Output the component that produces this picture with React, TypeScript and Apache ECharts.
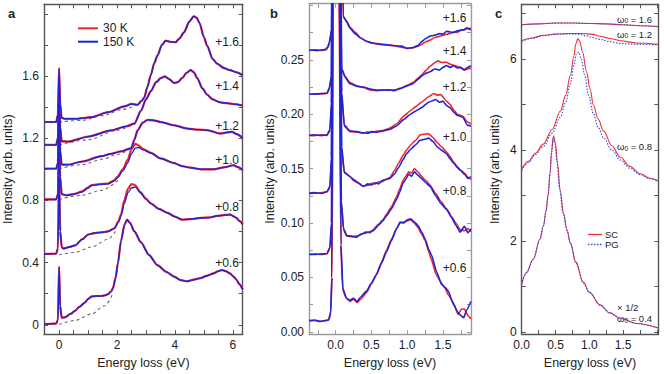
import React, { useEffect, useRef } from "react";
import * as echarts from "echarts";

// ---------------- Panel a (offset spectra, 30 K vs 150 K) ----------------
const aC1_150K = [[-0.52,0.005],[-0.3,0.006],[-0.1,0.008],[-0.04,0.03],[0,0.373],[0.04,0.12],[0.09,0.045],[0.2,0.048],[0.4,0.07],[0.55,0.09],[0.7,0.115],[0.89,0.143],[1.0,0.165],[1.12,0.182],[1.3,0.185],[1.46,0.185],[1.6,0.19],[1.69,0.197],[1.8,0.215],[1.86,0.235],[1.95,0.3],[2.03,0.394],[2.14,0.54],[2.26,0.645],[2.35,0.676],[2.45,0.655],[2.6,0.6],[2.83,0.53],[3.1,0.45],[3.4,0.383],[3.7,0.34],[3.97,0.31],[4.2,0.287],[4.42,0.279],[4.65,0.29],[4.88,0.3],[5.1,0.315],[5.33,0.33],[5.5,0.345],[5.62,0.352],[5.75,0.345],[5.9,0.331],[6.02,0.31],[6.13,0.289],[6.22,0.262],[6.34,0.228]];
const aC1_30K = aC1_150K;
const aC1_bg = [[0,0.003],[0.55,0.028],[1.12,0.069],[1.57,0.122],[1.86,0.2]];

const aC2_150K = [[-0.52,0.455],[-0.1,0.458],[-0.04,0.49],[0,1.0],[0.04,0.6],[0.09,0.5],[0.15,0.49],[0.35,0.5],[0.55,0.51],[0.8,0.55],[1.0,0.58],[1.23,0.59],[1.5,0.595],[1.69,0.6],[1.91,0.62],[2.05,0.66],[2.14,0.7],[2.25,0.78],[2.38,0.85],[2.5,0.88],[2.65,0.885],[2.8,0.85],[3.0,0.81],[3.17,0.78],[3.45,0.745],[3.74,0.72],[4.0,0.695],[4.25,0.676],[4.55,0.68],[4.88,0.687],[5.2,0.69],[5.45,0.7],[5.7,0.705],[5.9,0.707],[6.1,0.69],[6.25,0.665],[6.34,0.645]];
const aC2_30K = [[-0.52,0.455],[-0.1,0.458],[-0.04,0.49],[0,0.95],[0.04,0.6],[0.09,0.5],[0.15,0.49],[0.35,0.5],[0.55,0.51],[0.8,0.55],[1.0,0.58],[1.23,0.59],[1.5,0.595],[1.69,0.6],[1.91,0.62],[2.05,0.665],[2.14,0.71],[2.25,0.8],[2.38,0.875],[2.5,0.905],[2.62,0.898],[2.8,0.855],[3.0,0.81],[3.17,0.78],[3.45,0.745],[3.74,0.72],[4.0,0.695],[4.25,0.676],[4.55,0.68],[4.88,0.687],[5.2,0.69],[5.45,0.7],[5.7,0.705],[5.9,0.71],[6.1,0.69],[6.25,0.665],[6.34,0.645]];
const aC2_bg = [[0,0.45],[0.55,0.465],[1.12,0.5],[1.69,0.55],[1.95,0.6]];

const aC3_150K = [[-0.52,0.806],[-0.1,0.806],[-0.04,0.84],[0,1.3],[0.04,0.95],[0.09,0.84],[0.26,0.833],[0.5,0.84],[0.78,0.854],[1.0,0.88],[1.12,0.896],[1.4,0.903],[1.69,0.906],[1.9,0.925],[2.03,0.948],[2.2,0.99],[2.37,1.04],[2.5,1.1],[2.63,1.135],[2.75,1.14],[2.9,1.125],[3.17,1.105],[3.5,1.07],[3.97,1.04],[4.25,1.02],[4.54,1.01],[4.9,1.0],[5.33,1.0],[5.7,1.012],[6.02,1.026],[6.2,1.012],[6.34,0.995]];
const aC3_30K = [[-0.52,0.806],[-0.1,0.806],[-0.04,0.84],[0,1.25],[0.04,0.95],[0.09,0.84],[0.26,0.833],[0.5,0.84],[0.78,0.856],[1.0,0.882],[1.12,0.898],[1.4,0.905],[1.69,0.908],[1.9,0.928],[2.03,0.955],[2.2,1.0],[2.37,1.06],[2.5,1.13],[2.63,1.164],[2.75,1.152],[2.9,1.13],[3.17,1.105],[3.5,1.07],[3.97,1.04],[4.25,1.02],[4.54,1.01],[4.9,1.0],[5.33,1.0],[5.7,1.012],[6.02,1.026],[6.2,1.012],[6.34,0.995]];
const aC3_bg = [[0,0.806],[0.78,0.833],[1.46,0.864],[2.1,0.94]];

const aC4_150K = [[-0.52,1.004],[-0.1,1.004],[-0.04,1.04],[0,1.45],[0.04,1.12],[0.09,1.03],[0.32,1.03],[0.8,1.05],[1.46,1.084],[1.8,1.1],[2.14,1.115],[2.49,1.136],[2.6,1.19],[2.71,1.25],[2.89,1.3],[3.06,1.318],[3.25,1.315],[3.51,1.304],[3.97,1.283],[4.42,1.262],[4.8,1.255],[5.11,1.252],[5.56,1.23],[5.96,1.241],[6.15,1.225],[6.34,1.2]];
const aC4_30K = aC4_150K;
const aC4_bg = [[0,1.004],[0.8,1.03],[1.5,1.065],[2.0,1.095],[2.45,1.13]];

const aC5_150K = [[-0.52,1.157],[-0.1,1.157],[-0.04,1.2],[0,1.55],[0.04,1.27],[0.09,1.18],[0.32,1.178],[1.0,1.21],[1.8,1.25],[2.3,1.275],[2.6,1.293],[2.83,1.377],[3.0,1.45],[3.17,1.503],[3.35,1.56],[3.51,1.586],[3.65,1.597],[3.8,1.58],[3.97,1.555],[4.1,1.56],[4.25,1.586],[4.4,1.62],[4.54,1.638],[4.65,1.625],[4.77,1.586],[4.95,1.52],[5.11,1.48],[5.3,1.45],[5.56,1.43],[5.8,1.425],[6.02,1.419],[6.34,1.41]];
const aC5_30K = aC5_150K;
const aC5_bg = [[0,1.157],[1.0,1.19],[2.0,1.25],[2.6,1.293]];

const aC6_150K = [[-0.52,1.304],[-0.1,1.304],[-0.04,1.35],[0,1.65],[0.04,1.42],[0.09,1.33],[0.2,1.325],[0.6,1.325],[1.12,1.335],[1.69,1.367],[2.26,1.405],[2.5,1.42],[2.71,1.415],[2.85,1.44],[2.94,1.461],[3.05,1.53],[3.17,1.607],[3.28,1.68],[3.4,1.733],[3.55,1.8],[3.68,1.827],[3.85,1.82],[4.02,1.817],[4.15,1.84],[4.31,1.88],[4.5,1.95],[4.65,1.984],[4.75,1.975],[4.85,1.94],[5.0,1.85],[5.11,1.795],[5.3,1.71],[5.45,1.68],[5.7,1.65],[5.9,1.638],[6.1,1.625],[6.34,1.605]];
const aC6_30K = aC6_150K;
const aC6_bg = [[0,1.304],[0.8,1.315],[1.5,1.345],[2.2,1.385],[2.7,1.415]];

const aCurveLabels = ["+1.6", "+1.4", "+1.2", "+1.0", "+0.8", "+0.6"];
const aXTicks = [-0.5,0,0.5,1,1.5,2,2.5,3,3.5,4,4.5,5,5.5,6];
const aXLabels = [0,2,4,6];
const aYTicks = [0,0.2,0.4,0.6,0.8,1.0,1.2,1.4,1.6,1.8,2.0];
const aYLabels = [0,0.4,0.8,1.2,1.6];

// ---------------- Panel b ----------------
const b1_150K = [[-0.37,0.0105],[-0.3,0.011],[-0.22,0.0098],[-0.15,0.0102],[-0.1,0.011],[-0.07,0.018],[-0.055,0.05],[-0.04,0.35],[0,1.5],[0.05,0.35],[0.075,0.08],[0.1,0.04],[0.15,0.031],[0.2,0.029],[0.25,0.031],[0.3,0.028],[0.35,0.032],[0.43,0.0375],[0.5,0.045],[0.57,0.0525],[0.64,0.063],[0.71,0.0735],[0.78,0.084],[0.85,0.0946],[0.9,0.101],[0.95,0.1],[1.0,0.103],[1.05,0.104],[1.1,0.101],[1.15,0.098],[1.2,0.092],[1.25,0.0856],[1.3,0.076],[1.34,0.0705],[1.41,0.0555],[1.48,0.0435],[1.53,0.041],[1.575,0.0375],[1.645,0.0255],[1.71,0.018],[1.75,0.015],[1.79,0.013],[1.83,0.02],[1.89,0.028]];
const b1_30K = [[-0.37,0.01],[-0.3,0.0105],[-0.22,0.0095],[-0.15,0.0105],[-0.1,0.0108],[-0.07,0.016],[-0.05,0.05],[-0.03,0.35],[0.01,1.5],[0.045,0.35],[0.07,0.08],[0.1,0.038],[0.15,0.031],[0.2,0.028],[0.25,0.03],[0.3,0.027],[0.35,0.03],[0.43,0.036],[0.5,0.044],[0.57,0.053],[0.64,0.064],[0.71,0.075],[0.78,0.085],[0.85,0.095],[0.9,0.1],[0.95,0.101],[1.0,0.102],[1.05,0.103],[1.1,0.1],[1.15,0.096],[1.2,0.09],[1.25,0.084],[1.3,0.074],[1.34,0.066],[1.41,0.052],[1.48,0.045],[1.53,0.04],[1.575,0.034],[1.645,0.027],[1.71,0.016],[1.76,0.021],[1.8,0.021],[1.85,0.015],[1.89,0.012]];
const b2_150K = [[-0.37,0.0714],[-0.3,0.0712],[-0.2,0.0716],[-0.12,0.072],[-0.08,0.078],[-0.06,0.1],[-0.045,0.35],[0,1.5],[0.05,0.35],[0.08,0.12],[0.11,0.095],[0.154,0.0886],[0.22,0.088],[0.29,0.087],[0.35,0.09],[0.42,0.091],[0.48,0.092],[0.525,0.093],[0.6,0.098],[0.66,0.102],[0.71,0.1066],[0.78,0.113],[0.85,0.1216],[0.9,0.129],[0.94,0.1366],[0.98,0.14],[1.02,0.145],[1.06,0.143],[1.1,0.147],[1.15,0.144],[1.2,0.141],[1.26,0.137],[1.32,0.1336],[1.4,0.125],[1.47,0.118],[1.55,0.1126],[1.62,0.105],[1.68,0.098],[1.74,0.0916],[1.8,0.097],[1.85,0.091],[1.89,0.0946]];
const b2_30K = [[-0.37,0.071],[-0.3,0.0716],[-0.2,0.0712],[-0.12,0.0718],[-0.08,0.077],[-0.055,0.1],[-0.035,0.35],[0.01,1.5],[0.045,0.35],[0.075,0.12],[0.11,0.094],[0.154,0.088],[0.22,0.0875],[0.29,0.088],[0.35,0.089],[0.42,0.092],[0.48,0.091],[0.525,0.094],[0.6,0.099],[0.66,0.103],[0.71,0.108],[0.78,0.115],[0.85,0.124],[0.9,0.132],[0.94,0.139],[0.98,0.143],[1.02,0.147],[1.06,0.146],[1.1,0.15],[1.15,0.147],[1.2,0.143],[1.26,0.139],[1.32,0.135],[1.4,0.127],[1.47,0.12],[1.55,0.113],[1.62,0.106],[1.68,0.1],[1.74,0.094],[1.8,0.093],[1.85,0.095],[1.89,0.092]];
const b3_150K = [[-0.37,0.1276],[-0.3,0.128],[-0.2,0.1272],[-0.12,0.129],[-0.08,0.134],[-0.06,0.16],[-0.045,0.4],[0,1.5],[0.055,0.4],[0.085,0.17],[0.12,0.147],[0.2,0.1426],[0.25,0.14],[0.3,0.138],[0.385,0.1336],[0.45,0.136],[0.5,0.135],[0.55,0.137],[0.6,0.136],[0.65,0.139],[0.7,0.14],[0.76,0.141],[0.82,0.145],[0.88,0.151],[0.94,0.158],[0.99,0.1636],[1.05,0.168],[1.12,0.172],[1.18,0.176],[1.24,0.177],[1.3,0.178],[1.36,0.175],[1.42,0.17],[1.48,0.167],[1.55,0.1636],[1.6,0.159],[1.65,0.155],[1.7,0.151],[1.74,0.1486],[1.8,0.145],[1.85,0.141],[1.89,0.1426]];
const b3_30K = [[-0.37,0.127],[-0.3,0.1274],[-0.2,0.1278],[-0.12,0.1285],[-0.08,0.133],[-0.055,0.16],[-0.035,0.4],[0.01,1.5],[0.05,0.4],[0.08,0.17],[0.12,0.146],[0.2,0.143],[0.25,0.139],[0.3,0.137],[0.385,0.134],[0.45,0.1345],[0.5,0.1365],[0.55,0.136],[0.6,0.138],[0.65,0.138],[0.7,0.14],[0.76,0.142],[0.82,0.148],[0.88,0.155],[0.94,0.162],[0.99,0.167],[1.05,0.172],[1.12,0.176],[1.18,0.181],[1.24,0.1816],[1.3,0.182],[1.36,0.1786],[1.42,0.174],[1.48,0.17],[1.55,0.1655],[1.6,0.161],[1.65,0.156],[1.7,0.152],[1.74,0.149],[1.8,0.146],[1.85,0.142],[1.89,0.14]];
const b4_150K = [[-0.37,0.1807],[-0.3,0.181],[-0.2,0.1803],[-0.12,0.181],[-0.08,0.186],[-0.06,0.21],[-0.045,0.45],[0,1.5],[0.055,0.45],[0.085,0.22],[0.12,0.19],[0.2,0.1847],[0.3,0.184],[0.385,0.183],[0.45,0.1825],[0.5,0.184],[0.58,0.1835],[0.66,0.1847],[0.75,0.186],[0.85,0.1892],[0.95,0.195],[1.04,0.1997],[1.12,0.203],[1.2,0.206],[1.3,0.211],[1.4,0.2135],[1.45,0.211],[1.5,0.212],[1.55,0.208],[1.6,0.206],[1.65,0.202],[1.7,0.199],[1.78,0.197],[1.84,0.19],[1.89,0.189]];
const b4_30K = [[-0.37,0.1805],[-0.3,0.1803],[-0.2,0.181],[-0.12,0.1805],[-0.08,0.185],[-0.055,0.21],[-0.035,0.45],[0.01,1.5],[0.05,0.45],[0.08,0.22],[0.12,0.189],[0.2,0.184],[0.3,0.1835],[0.385,0.1825],[0.45,0.1838],[0.5,0.1832],[0.58,0.1845],[0.66,0.185],[0.75,0.187],[0.85,0.191],[0.95,0.198],[1.04,0.203],[1.12,0.207],[1.2,0.211],[1.3,0.216],[1.37,0.219],[1.42,0.2175],[1.47,0.218],[1.55,0.212],[1.6,0.209],[1.65,0.204],[1.7,0.2],[1.78,0.198],[1.84,0.193],[1.89,0.191]];
const b5_150K = [[-0.37,0.2186],[-0.3,0.2183],[-0.2,0.219],[-0.12,0.2195],[-0.09,0.224],[-0.06,0.235],[-0.045,0.5],[0,1.5],[0.06,0.5],[0.084,0.242],[0.13,0.234],[0.2,0.228],[0.3,0.2255],[0.385,0.225],[0.5,0.2228],[0.58,0.2222],[0.66,0.222],[0.74,0.2225],[0.82,0.2215],[0.9,0.2237],[1.0,0.226],[1.08,0.228],[1.15,0.232],[1.2,0.235],[1.26,0.2375],[1.32,0.239],[1.39,0.2417],[1.45,0.2405],[1.5,0.243],[1.55,0.2447],[1.6,0.243],[1.65,0.2445],[1.7,0.2425],[1.74,0.243],[1.8,0.241],[1.85,0.243],[1.89,0.2445]];
const b5_30K = [[-0.37,0.2183],[-0.3,0.2188],[-0.2,0.2185],[-0.12,0.219],[-0.09,0.223],[-0.055,0.235],[-0.035,0.5],[0.01,1.5],[0.055,0.5],[0.08,0.242],[0.13,0.235],[0.2,0.229],[0.3,0.226],[0.385,0.2245],[0.5,0.222],[0.58,0.2215],[0.66,0.2225],[0.74,0.2218],[0.82,0.2225],[0.9,0.2235],[1.0,0.2265],[1.08,0.229],[1.15,0.233],[1.2,0.236],[1.26,0.24],[1.32,0.244],[1.39,0.2475],[1.43,0.249],[1.48,0.2475],[1.55,0.2477],[1.6,0.246],[1.65,0.245],[1.7,0.244],[1.74,0.243],[1.8,0.2405],[1.85,0.2415],[1.89,0.2425]];
const b6_150K = [[-0.37,0.259],[-0.3,0.2588],[-0.25,0.2585],[-0.2,0.259],[-0.14,0.2595],[-0.11,0.262],[-0.09,0.266],[-0.056,0.278],[-0.045,0.6],[0,1.5],[0.07,0.6],[0.106,0.29],[0.15,0.285],[0.2,0.279],[0.27,0.274],[0.35,0.27],[0.43,0.267],[0.5,0.2655],[0.58,0.2648],[0.67,0.2642],[0.76,0.2635],[0.85,0.2627],[0.92,0.2625],[1.0,0.2605],[1.08,0.2612],[1.15,0.263],[1.2,0.2665],[1.26,0.2695],[1.32,0.2717],[1.38,0.2725],[1.45,0.274],[1.5,0.2735],[1.55,0.2762],[1.6,0.2755],[1.645,0.275],[1.7,0.2765],[1.75,0.277],[1.8,0.2778],[1.83,0.2793],[1.89,0.2775]];
const b6_30K = [[-0.37,0.2585],[-0.3,0.2592],[-0.25,0.259],[-0.2,0.2585],[-0.14,0.259],[-0.11,0.261],[-0.09,0.264],[-0.05,0.278],[-0.035,0.6],[0.01,1.5],[0.065,0.6],[0.1,0.29],[0.15,0.286],[0.2,0.28],[0.27,0.2755],[0.35,0.27],[0.43,0.267],[0.5,0.2655],[0.58,0.2645],[0.67,0.2635],[0.76,0.2632],[0.85,0.2625],[0.92,0.2615],[1.0,0.2605],[1.08,0.2608],[1.15,0.2625],[1.2,0.264],[1.26,0.2665],[1.32,0.268],[1.38,0.2705],[1.45,0.2715],[1.5,0.2725],[1.55,0.2735],[1.6,0.274],[1.645,0.2755],[1.7,0.275],[1.75,0.2775],[1.8,0.2775],[1.83,0.2785],[1.89,0.279]];

const bCurveLabels = ["+1.6", "+1.4", "+1.2", "+1.0", "+0.8", "+0.6"];
const bXTicks = [-0.25,0,0.25,0.5,0.75,1.0,1.25,1.5,1.75];
const bXLabels = [0,0.5,1.0,1.5];
const bYTicks = [0,0.025,0.05,0.075,0.1,0.125,0.15,0.175,0.2,0.225,0.25,0.275,0.3];
const bYLabels = [0,0.05,0.1,0.15,0.2,0.25];

// ---------------- Panel c (model, SC vs PG) ----------------
const c16_SC = [[0,6.75],[0.25,6.77],[0.5,6.79],[0.75,6.79],[1.0,6.78],[1.25,6.77],[1.5,6.75],[1.75,6.73],[2.02,6.71]];
const c16_PG = c16_SC;
const c12_SC = [[0,6.4],[0.15,6.46],[0.32,6.52],[0.5,6.545],[0.7,6.56],[0.91,6.56],[1.05,6.54],[1.16,6.5],[1.3,6.45],[1.46,6.4],[1.7,6.35],[2.02,6.32]];
const c12_PG = [[0,6.39],[0.15,6.45],[0.32,6.51],[0.5,6.54],[0.7,6.55],[0.85,6.54],[0.95,6.51],[1.05,6.47],[1.16,6.43],[1.3,6.38],[1.46,6.34],[1.7,6.32],[2.02,6.31]];
const c08_SC = [[0,3.585],[0.1,3.75],[0.2,3.93],[0.32,4.13],[0.45,4.45],[0.57,4.85],[0.65,5.2],[0.72,5.64],[0.77,6.05],[0.8,6.33],[0.83,6.45],[0.86,6.38],[0.9,6.15],[0.96,5.71],[1.01,5.35],[1.06,4.99],[1.13,4.68],[1.21,4.42],[1.33,4.1],[1.46,3.84],[1.6,3.64],[1.75,3.48],[1.9,3.38],[2.02,3.32]];
const c08_PG = [[0,3.56],[0.1,3.72],[0.2,3.9],[0.32,4.08],[0.45,4.37],[0.57,4.72],[0.65,5.05],[0.72,5.45],[0.77,5.85],[0.81,6.12],[0.84,6.15],[0.88,6.0],[0.93,5.65],[0.99,5.2],[1.06,4.8],[1.13,4.5],[1.21,4.27],[1.33,4.0],[1.46,3.78],[1.6,3.6],[1.75,3.46],[1.9,3.37],[2.02,3.31]];
const c04_SC = [[0,1.06],[0.07,1.31],[0.17,1.6],[0.27,2.04],[0.32,2.32],[0.36,2.65],[0.39,3.0],[0.42,3.5],[0.44,3.95],[0.47,4.31],[0.5,4.15],[0.53,3.7],[0.57,3.1],[0.62,2.6],[0.67,2.25],[0.72,1.96],[0.8,1.55],[0.91,1.1],[1.0,0.88],[1.16,0.6],[1.3,0.43],[1.46,0.31],[1.7,0.19],[2.02,0.09]];
const c04_PG = [[0,1.05],[0.07,1.3],[0.17,1.6],[0.27,2.04],[0.32,2.33],[0.36,2.67],[0.39,3.02],[0.42,3.5],[0.44,3.9],[0.46,4.24],[0.49,4.15],[0.52,3.75],[0.56,3.15],[0.61,2.62],[0.67,2.22],[0.72,1.94],[0.8,1.52],[0.91,1.08],[1.0,0.87],[1.16,0.59],[1.3,0.42],[1.46,0.3],[1.7,0.19],[2.02,0.09]];

const cXTicks = [0,0.25,0.5,0.75,1.0,1.25,1.5,1.75,2.0];
const cXLabels = [0,0.5,1.0,1.5];
const cYTicks = [0,1,2,3,4,5,6,7];
const cYLabels = [0,2,4,6];

// ---------------- styling ----------------
const FONT = "'Liberation Sans', Arial, Helvetica, sans-serif";
const RED = "#f0262c";
const BLUE = "#1f24d6";
const RED_C = "#e8333a";
const BLUE_C = "#3a4be0";
const GRAY = "#6a6a6a";

function xAxes(gi: number, min: number, max: number, ticks: number[], labels: number[], fmt: (v: number) => string, color: string, gap: number) {
  return [
    {
      type: "value", gridIndex: gi, position: "bottom", min, max,
      name: "Energy loss (eV)", nameLocation: "middle", nameGap: gap,
      nameTextStyle: { fontFamily: FONT, fontSize: 12.5, color: "#222" },
      axisLine: { show: true, onZero: false, lineStyle: { color, width: 1.4 } },
      axisTick: { show: true, inside: true, length: 4, customValues: ticks, lineStyle: { color, width: 1 } },
      axisLabel: { show: true, customValues: labels, formatter: fmt, fontFamily: FONT, fontSize: 12, color: "#222", margin: 5 },
      splitLine: { show: false },
    },
    {
      type: "value", gridIndex: gi, position: "top", min, max,
      axisLine: { show: true, onZero: false, lineStyle: { color, width: 1.4 } },
      axisTick: { show: true, inside: true, length: 4, customValues: ticks, lineStyle: { color, width: 1 } },
      axisLabel: { show: false },
      splitLine: { show: false },
    },
  ];
}

function yAxes(gi: number, min: number, max: number, ticks: number[], labels: number[], fmt: (v: number) => string, color: string, gap: number) {
  return [
    {
      type: "value", gridIndex: gi, position: "left", min, max,
      name: "Intensity (arb. units)", nameLocation: "middle", nameGap: gap,
      nameTextStyle: { fontFamily: FONT, fontSize: 12.5, color: "#222" },
      axisLine: { show: true, onZero: false, lineStyle: { color, width: 1.4 } },
      axisTick: { show: true, inside: true, length: 4, customValues: ticks, lineStyle: { color, width: 1 } },
      axisLabel: { show: true, customValues: labels, formatter: fmt, fontFamily: FONT, fontSize: 12, color: "#222", margin: 5 },
      splitLine: { show: false },
    },
    {
      type: "value", gridIndex: gi, position: "right", min, max,
      axisLine: { show: true, onZero: false, lineStyle: { color, width: 1.4 } },
      axisTick: { show: true, inside: true, length: 4, customValues: ticks, lineStyle: { color, width: 1 } },
      axisLabel: { show: false },
      splitLine: { show: false },
    },
  ];
}

function ln(data: number[][], gi: number, color: string, width: number, type: any, z: number, smooth: number | boolean) {
  return {
    type: "line", xAxisIndex: gi * 2, yAxisIndex: gi * 2, data,
    symbol: "none", showSymbol: false, smooth, smoothMonotone: "x",
    lineStyle: { color, width, type }, z, silent: true, clip: true,
  };
}

function txt(x: number, y: number, text: string, size: number, align = "left", weight = "normal") {
  return {
    type: "text", x, y, silent: true,
    style: { text, fill: "#222", font: `${weight} ${size}px ${FONT}`, lineHeight: size, align, verticalAlign: "middle" },
  };
}

function omega(x: number, y: number, value: string) {
  return {
    type: "text", x, y, silent: true,
    style: {
      text: `{w|ω}{s|0}{w| = ${value}}`,
      fill: "#222", font: `9.5px ${FONT}`, align: "left", verticalAlign: "middle",
      rich: {
        w: { fontFamily: FONT, fontSize: 9.5, lineHeight: 10, fill: "#222" },
        s: { fontFamily: FONT, fontSize: 6.5, lineHeight: 10, verticalAlign: "bottom", fill: "#222" },
      },
    },
  };
}

function seg(x1: number, y1: number, x2: number, y2: number, stroke: string, lineWidth: number, lineDash?: number[]) {
  return { type: "line", silent: true, shape: { x1, y1, x2, y2 }, style: { stroke, lineWidth, lineDash } };
}

export default function App() {
  const ref = useRef<HTMLDivElement>(null);
  useEffect(() => {
    if (!ref.current) return;
    const chart = echarts.init(ref.current, null, { renderer: "svg" });

    const aPairs = [
      [aC1_30K, aC1_150K, aC1_bg], [aC2_30K, aC2_150K, aC2_bg], [aC3_30K, aC3_150K, aC3_bg],
      [aC4_30K, aC4_150K, aC4_bg], [aC5_30K, aC5_150K, aC5_bg], [aC6_30K, aC6_150K, aC6_bg],
    ];
    const bPairs = [[b1_30K, b1_150K], [b2_30K, b2_150K], [b3_30K, b3_150K], [b4_30K, b4_150K], [b5_30K, b5_150K], [b6_30K, b6_150K]];
    const cPairs = [[c16_SC, c16_PG], [c12_SC, c12_PG], [c08_SC, c08_PG], [c04_SC, c04_PG]];

    const series: any[] = [];
    aPairs.forEach(([red, blue, bg]) => {
      series.push(ln(bg, 0, GRAY, 1.1, [3, 3], 1, 0.3));
      series.push(ln(red, 0, RED, 2.2, "solid", 2, 0.25));
      series.push(ln(blue, 0, BLUE, 1.4, "solid", 3, 0.25));
    });
    bPairs.forEach(([red, blue]) => {
      series.push(ln(red, 1, RED, 1.6, "solid", 2, 0.15));
      series.push(ln(blue, 1, BLUE, 1.6, "solid", 3, 0.15));
    });
    cPairs.forEach(([sc, pg]) => {
      series.push(ln(sc, 2, RED_C, 1.1, "solid", 2, 0.35));
      series.push(ln(pg, 2, BLUE_C, 1.1, [1.5, 1.5], 3, 0.35));
    });

    const aLabelY = [41.7, 86, 126, 160, 207.3, 263.3];
    const bLabelY = [18.3, 51, 87.3, 136.7, 190.7, 268.3];

    const graphic: any[] = [
      txt(8, 13, "a", 13, "left", "bold"),
      txt(270, 13, "b", 13, "left", "bold"),
      txt(495, 13, "c", 13, "left", "bold"),
      seg(78, 28.3, 98, 28.3, RED, 2),
      txt(103, 28.3, "30 K", 12),
      seg(78, 41.7, 98, 41.7, BLUE, 2),
      txt(103, 41.7, "150 K", 12),
      ...aCurveLabels.map((t, i) => txt(239, aLabelY[i], t, 12, "right")),
      ...bCurveLabels.map((t, i) => txt(466.5, bLabelY[i], t, 12, "right")),
      omega(617, 19.3, "1.6"),
      omega(617, 34.3, "1.2"),
      omega(617, 146.7, "0.8"),
      txt(617, 307, "× 1/2", 9.5),
      omega(617, 318.5, "0.4"),
      seg(588, 234.5, 602, 234.5, RED_C, 1.3),
      txt(605, 234.5, "SC", 9.5),
      seg(588, 244.5, 602, 244.5, BLUE_C, 1.3, [1.5, 1.5]),
      txt(605, 244.5, "PG", 9.5),
    ];

    const f0 = (v: number) => String(Math.round(v * 10) / 10);
    const f1 = (v: number) => v.toFixed(1);
    const f2 = (v: number) => v.toFixed(2);

    const option: any = {
      animation: false,
      backgroundColor: "#fff",
      grid: [
        { left: 42, top: 4.3, width: 200.7, height: 338, containLabel: false },
        { left: 309, top: 3.7, width: 162, height: 336.6, containLabel: false },
        { left: 521.7, top: 4.3, width: 136.6, height: 335, containLabel: false },
      ],
      xAxis: [
        ...xAxes(0, -0.52, 6.34, aXTicks, aXLabels, f0, "#555", 19),
        ...xAxes(1, -0.373, 1.892, bXTicks, bXLabels, f1, "#9a9a9a", 21),
        ...xAxes(2, 0, 2.02, cXTicks, cXLabels, f1, "#555", 22),
      ],
      yAxis: [
        ...yAxes(0, -0.06, 2.061, aYTicks, aYLabels, f0, "#555", 30),
        ...yAxes(1, -0.002, 0.3015, bYTicks, bYLabels, f2, "#9a9a9a", 33),
        ...yAxes(2, -0.04, 7.2, cYTicks, cYLabels, f0, "#555", 20),
      ],
      series,
      graphic,
    };
    chart.setOption(option);
    return () => chart.dispose();
  }, []);
  return <div ref={ref} style={{ position: "absolute", left: 0, top: 0, width: 664, height: 374, background: "#fff" }} />;
}
